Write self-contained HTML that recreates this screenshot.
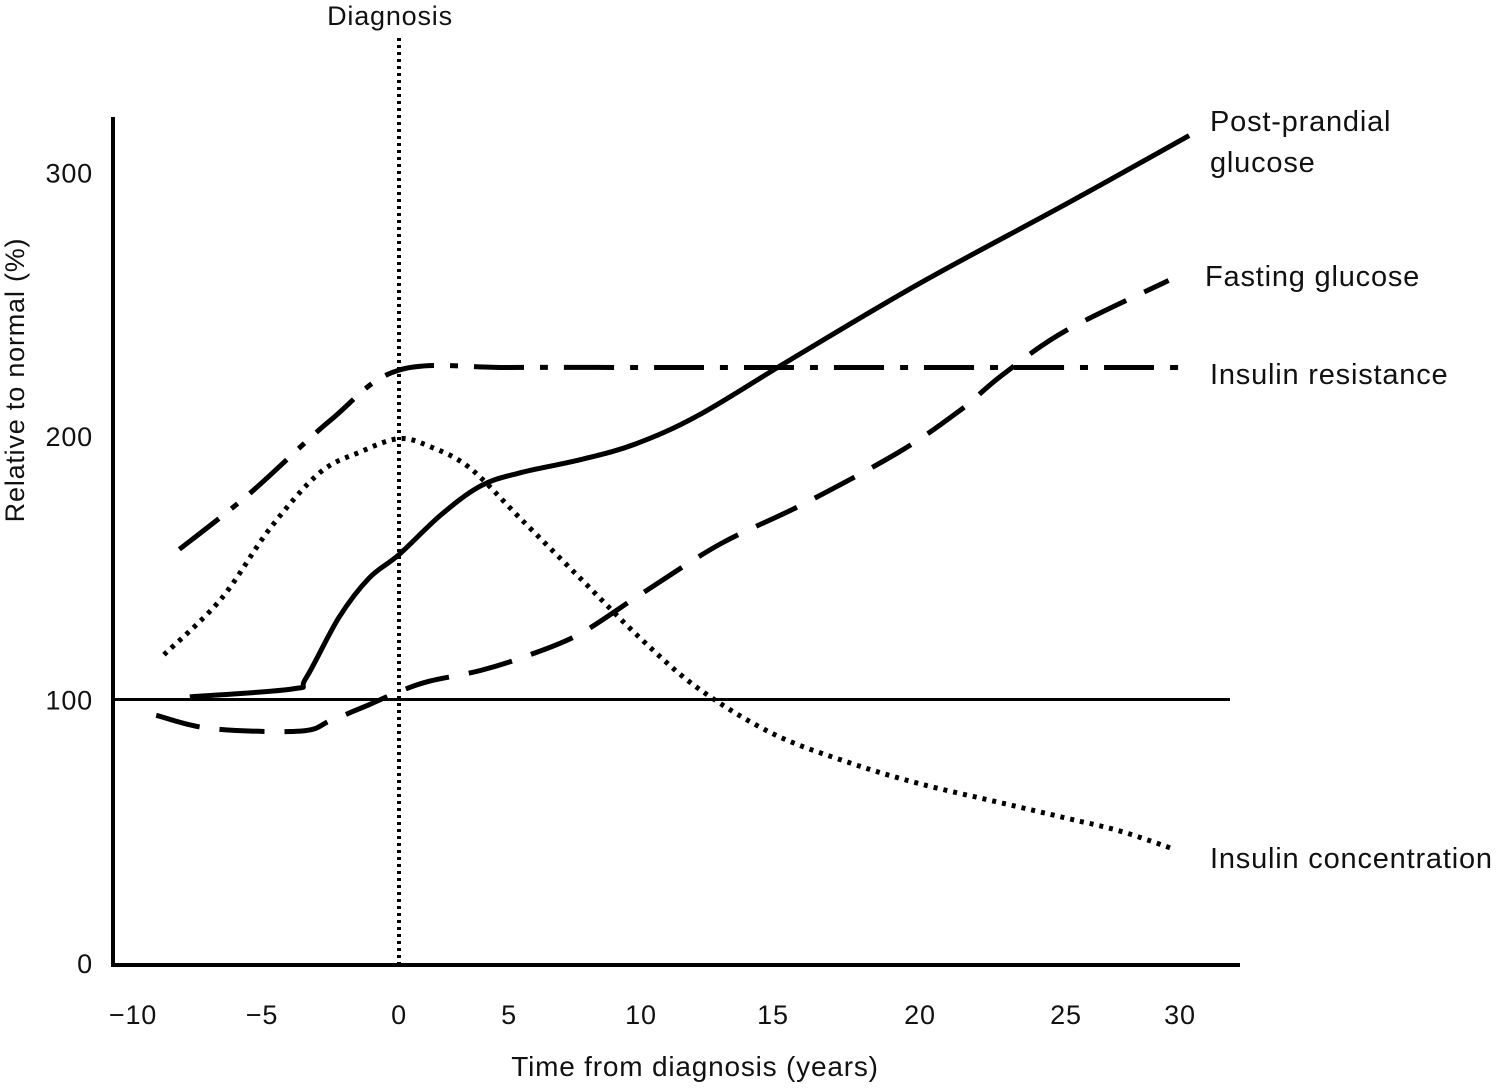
<!DOCTYPE html>
<html><head><meta charset="utf-8"><style>
body{margin:0;background:#fff}
svg text{font-family:"Liberation Sans",sans-serif;fill:#111;letter-spacing:0.8px}
</style></head><body>
<svg width="1501" height="1087" viewBox="0 0 1501 1087">
<g id="g"></g>
</svg>
<script>
const xTicks=[-10,-5,0,5,10,15,20,25,30];
const xTickLabels=["\u221210","\u22125","0","5","10","15","20","25","30"];
const yTicks=[0,100,200,300];
const ppX=[-7.8,-3.9,-3.4,-2.2,-1.1,0,1.9,3.7,5.4,7.7,9.8,12.2,15.6,20,25,30.4];
const ppY=[101,104,108,131,146,155,170,181,186,191,197,208,229,258,288,314];
const fgX=[-9.1,-7,-3.6,-2.5,-1.1,0,1.4,3.7,5.8,7.7,10,13,16,19.3,21.4,22.8,25,29.5];
const fgY=[94,89,88,92,98,103,107,111,117,125,140,159,174,194,210,223,240,259];
const irX=[-8.2,-5.5,-2.5,0,5,10,15,20,25,30];
const irY=[157,178,206,225,226,226,226,226,226,226];
const icX=[-8.8,-6.6,-4.7,-2.9,-1.4,0,1.4,3.2,5.4,7.7,10,12.2,15,17.6,20,22.7,25,27.4,29.8];
const icY=[117,138,165,186,194,199,196,188,169,146,123,104,87,76,68,61,55,50,43];
const tickPx=[133,262,399,509,641,773,920,1066,1180];
function xs(v){for(let i=0;i<xTicks.length-1;i++){if(v<=xTicks[i+1]||i==xTicks.length-2){const t=(v-xTicks[i])/(xTicks[i+1]-xTicks[i]);return tickPx[i]+t*(tickPx[i+1]-tickPx[i]);}}}
function ys(v){return 963-v*2.635;}
const NS="http://www.w3.org/2000/svg",g=document.getElementById('g');
function el(t,a){const e=document.createElementNS(NS,t);for(const k in a)e.setAttribute(k,a[k]);g.appendChild(e);return e;}
function txt(x,y,s,anchor,name,size){const e=el('text',{x:x,y:y,'font-size':size||27,'text-anchor':anchor||'start'});e.textContent=s;

return e;}
let a=el('line',{x1:113,y1:117,x2:113,y2:966,stroke:'#000','stroke-width':4});


a=el('line',{x1:111,y1:965,x2:1240,y2:965,stroke:'#000','stroke-width':4});


a=el('line',{x1:113,y1:ys(100),x2:1230,y2:ys(100),stroke:'#000','stroke-width':3});


a=el('line',{x1:xs(0),y1:38,x2:xs(0),y2:965,stroke:'#000','stroke-width':4,'stroke-dasharray':'3 4'});


xTicks.forEach((v,i)=>txt(xs(v),1024,xTickLabels[i],'middle','x-tick-label'));
yTicks.forEach(v=>txt(93,ys(v)+10,String(v),'end','y-tick-label'));
txt(390,25,'Diagnosis','middle','diagnosis-label');
txt(695,1076,'Time from diagnosis (years)','middle','x-axis-title',28);
let yt=txt(0,0,'Relative to normal (%)','middle','y-axis-title');
yt.setAttribute('transform','translate(24,380) rotate(-90)');
function series(X,Y,name,dash){const P=X.map((x,i)=>[xs(x),ys(Y[i])]);
let d='M'+P[0][0].toFixed(1)+','+P[0][1].toFixed(1);
for(let i=0;i<P.length-1;i++){const p0=P[i-1]||P[i],p1=P[i],p2=P[i+1],p3=P[i+2]||p2;
d+=' C'+(p1[0]+(p2[0]-p0[0])/6).toFixed(1)+','+(p1[1]+(p2[1]-p0[1])/6).toFixed(1)+' '+(p2[0]-(p3[0]-p1[0])/6).toFixed(1)+','+(p2[1]-(p3[1]-p1[1])/6).toFixed(1)+' '+p2[0].toFixed(1)+','+p2[1].toFixed(1);}
const p=el('path',{d:d,fill:'none',stroke:'#000','stroke-width':5,'stroke-dasharray':dash});

}
series(ppX,ppY,'post-prandial-glucose-line','none');
series(fgX,fgY,'fasting-glucose-line','45 20');
series(irX,irY,'insulin-resistance-line','50 16 8 16');
series(icX,icY,'insulin-concentration-line','4 6');
txt(1210,131,'Post-prandial','start','legend-post-prandial',29);
txt(1210,172,'glucose','start','legend-post-prandial-2',29);
txt(1205,286,'Fasting glucose','start','legend-fasting-glucose',29);
txt(1210,384,'Insulin resistance','start','legend-insulin-resistance',29);
txt(1210,868,'Insulin concentration','start','legend-insulin-concentration',29);
</script>
</body></html>
